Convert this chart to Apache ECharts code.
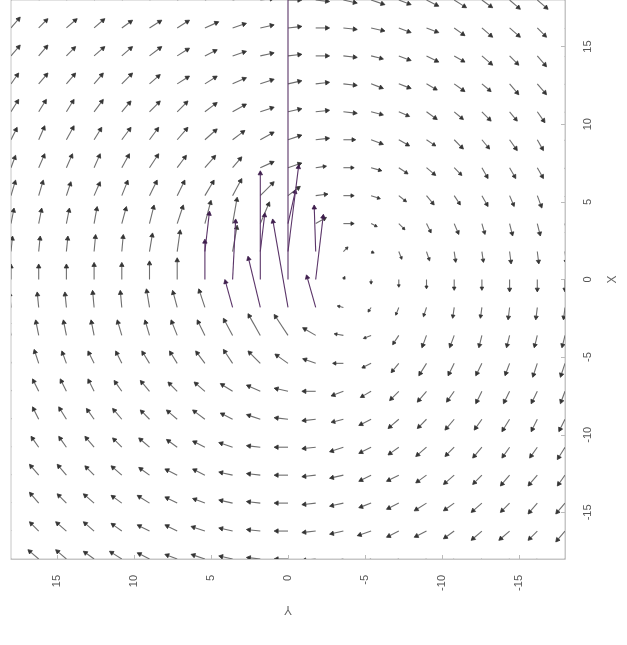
<!DOCTYPE html>
<html><head><meta charset="utf-8">
<script src="https://cdn.jsdelivr.net/npm/echarts@6/dist/echarts.min.js"></script>
<style>html,body{margin:0;padding:0;background:#fff}#c{width:627px;height:645px}</style>
</head><body><div id="c"></div>
<script>
// grid of X values (rows, top to bottom) and Y values (columns, left to right)
const xVals = [18,16.2,14.4,12.6,10.8,9,7.2,5.4,3.6,1.8,0,-1.8,-3.6,-5.4,-7.2,-9,-10.8,-12.6,-14.4,-16.2,-18];
const yVals = [18,16.2,14.4,12.6,10.8,9,7.2,5.4,3.6,1.8,0,-1.8,-3.6,-5.4,-7.2,-9,-10.8,-12.6,-14.4,-16.2,-18];
const tickValues = [-15,-10,-5,0,5,10,15];
// dX component of every arrow (row = X value, column = Y value)
const dXRows = [
[.6,.6,.6,.5,.5,.4,.3,.3,.2,.1,0,-.1,-.2,-.3,-.3,-.4,-.5,-.5,-.6,-.6,-.6],
[.7,.6,.6,.6,.5,.5,.5,.4,.3,.2,.1,0,-.1,-.2,-.3,-.3,-.5,-.6,-.6,-.6,-.7],
[.7,.7,.6,.6,.6,.6,.5,.4,.3,.2,.1,0,-.1,-.2,-.3,-.4,-.4,-.6,-.6,-.7,-.7],
[.7,.7,.7,.7,.7,.6,.5,.5,.4,.3,.2,.1,-.1,-.3,-.3,-.4,-.5,-.5,-.7,-.7,-.7],
[.8,.8,.8,.8,.7,.7,.7,.6,.5,.3,.2,.1,-.1,-.2,-.3,-.5,-.5,-.6,-.6,-.7,-.8],
[.8,.9,.9,.8,.8,.8,.8,.7,.6,.5,.3,.1,0,-.3,-.4,-.4,-.6,-.6,-.7,-.7,-.8],
[.8,.9,.9,.9,.9,.9,.8,.8,.7,.4,.3,.1,0,-.2,-.4,-.5,-.5,-.7,-.7,-.7,-.8],
[1.0,1.0,.9,.9,1.0,1.0,1.0,1.0,1.1,.9,.6,.1,0,-.2,-.4,-.6,-.6,-.7,-.7,-.8,-.8],
[1.0,1.0,1.0,1.1,1.1,1.2,1.2,1.5,1.7,1.4,2.2,.4,0,-.2,-.4,-.6,-.7,-.7,-.8,-.8,-.8],
[1.0,1.0,1.0,1.1,1.1,1.2,1.4,2.6,1.7,2.5,5.6,3.0,.3,-.1,-.5,-.6,-.7,-.7,-.8,-.8,-.8],
[1.0,1.0,1.0,1.1,1.1,1.2,1.4,2.6,3.9,7.0,25,4.2,.2,-.3,-.5,-.6,-.7,-.7,-.8,-.8,-.8],
[1.0,1.0,1.0,1.1,1.1,1.2,1.1,1.2,1.8,3.3,5.7,2.1,.1,-.3,-.5,-.6,-.7,-.7,-.8,-.8,-.8],
[1.0,1.0,1.0,1.0,1.0,1.0,1.0,1.0,1.1,1.4,1.35,.5,.1,-.2,-.6,-.8,-.8,-.8,-.8,-.8,-.8],
[.9,.9,.8,.8,.8,.8,.8,.8,.9,.8,.6,.3,0,-.3,-.6,-.8,-.8,-.8,-.8,-.9,-.9],
[.8,.8,.8,.8,.7,.7,.6,.6,.5,.4,.2,0,-.3,-.4,-.6,-.7,-.7,-.8,-.8,-.8,-.8],
[.8,.8,.8,.7,.7,.6,.6,.6,.4,.3,.1,-.1,-.2,-.4,-.6,-.6,-.7,-.7,-.8,-.8,-.8],
[.8,.7,.7,.7,.6,.6,.5,.4,.3,.1,0,-.1,-.3,-.4,-.5,-.6,-.6,-.7,-.7,-.7,-.8],
[.7,.7,.7,.6,.6,.5,.4,.4,.2,.1,0,-.1,-.2,-.4,-.4,-.5,-.6,-.6,-.7,-.7,-.7],
[.7,.7,.6,.6,.5,.5,.4,.3,.2,.1,0,-.1,-.2,-.3,-.4,-.5,-.5,-.6,-.6,-.7,-.7],
[.7,.6,.6,.6,.5,.4,.4,.3,.2,.1,0,-.1,-.2,-.3,-.4,-.4,-.5,-.6,-.6,-.6,-.7],
[.6,.6,.6,.5,.5,.4,.3,.3,.2,.1,0,-.1,-.2,-.3,-.3,-.4,-.5,-.5,-.6,-.6,-.6]
];
// dY component of every arrow
const dYRows = [
[-.6,-.7,-.7,-.7,-.8,-.8,-.8,-.9,-.9,-.9,-.9,-.9,-.9,-.9,-.8,-.8,-.8,-.7,-.7,-.7,-.6],
[-.6,-.6,-.7,-.7,-.7,-.8,-.8,-.9,-.9,-.9,-.9,-.9,-.9,-.9,-.8,-.8,-.7,-.7,-.7,-.6,-.6],
[-.6,-.6,-.6,-.7,-.7,-.8,-.8,-.8,-.9,-.9,-.9,-.9,-.9,-.8,-.8,-.8,-.7,-.7,-.6,-.6,-.6],
[-.5,-.6,-.6,-.6,-.7,-.7,-.8,-.8,-.9,-.9,-.9,-.9,-.9,-.8,-.8,-.7,-.7,-.6,-.6,-.6,-.5],
[-.5,-.5,-.5,-.6,-.6,-.7,-.7,-.8,-.9,-.9,-.9,-.9,-.9,-.8,-.7,-.7,-.6,-.6,-.5,-.5,-.5],
[-.4,-.4,-.5,-.5,-.6,-.6,-.7,-.8,-.8,-.9,-.9,-.9,-.8,-.8,-.7,-.6,-.6,-.5,-.5,-.4,-.4],
[-.3,-.4,-.4,-.4,-.5,-.6,-.6,-.7,-.6,-.9,-.9,-.7,-.7,-.7,-.6,-.6,-.5,-.4,-.4,-.4,-.3],
[-.3,-.3,-.3,-.4,-.4,-.5,-.5,-.6,-.6,-.9,-.8,-.8,-.7,-.6,-.5,-.5,-.4,-.4,-.3,-.3,-.3],
[-.2,-.2,-.2,-.2,-.3,-.3,-.4,-.4,-.3,-.6,-.5,-.7,-.7,-.4,-.4,-.3,-.3,-.2,-.2,-.2,-.2],
[-.1,-.1,-.1,-.1,-.1,-.2,-.2,-.3,-.3,-.3,-.7,.1,-.3,-.2,-.2,-.2,-.1,-.1,-.1,-.1,-.1],
[0,0,0,0,0,0,0,0,-.2,0,0,-.5,-.1,0,0,0,0,0,0,0,0],
[.1,.1,.1,.1,.1,.2,.3,.4,.5,.8,1.0,.6,.4,.2,.2,.2,.1,.1,.1,.1,.1],
[.2,.2,.2,.2,.3,.3,.4,.5,.6,.8,.9,.85,.6,.5,.4,.3,.3,.2,.2,.2,.2],
[.3,.3,.3,.4,.4,.5,.5,.6,.6,.8,.85,.85,.7,.6,.5,.5,.4,.4,.3,.3,.3],
[.3,.4,.4,.4,.5,.6,.6,.7,.8,.9,.9,.9,.8,.7,.6,.6,.5,.4,.4,.4,.3],
[.4,.4,.5,.5,.6,.6,.7,.8,.8,.9,.9,.9,.8,.8,.7,.6,.6,.5,.5,.4,.4],
[.5,.5,.5,.6,.6,.7,.7,.8,.9,.9,.9,.9,.9,.8,.7,.7,.6,.6,.5,.5,.5],
[.5,.6,.6,.6,.7,.7,.8,.8,.9,.9,.9,.9,.9,.8,.8,.7,.7,.6,.6,.6,.5],
[.6,.6,.6,.7,.7,.8,.8,.8,.9,.9,.9,.9,.9,.8,.8,.8,.7,.7,.6,.6,.6],
[.6,.6,.7,.7,.7,.8,.8,.9,.9,.9,.9,.9,.9,.9,.8,.8,.7,.7,.7,.6,.6],
[.6,.7,.7,.7,.8,.8,.8,.9,.9,.9,.9,.9,.9,.9,.8,.8,.8,.7,.7,.7,.6]
];

const data = [];
xVals.forEach((xv, i) => {
  yVals.forEach((yv, j) => {
    data.push([yv, xv, dYRows[i][j], dXRows[i][j]]);
  });
});

function renderItem(params, api) {
  const y0 = api.value(0), x0 = api.value(1), dy = api.value(2), dx = api.value(3);
  const s = api.coord([y0, x0]);
  const e = api.coord([y0 + dy, x0 + dx]);
  const vx = e[0] - s[0], vy = e[1] - s[1];
  const L = Math.hypot(vx, vy);
  if (L < 0.8) return null;
  const ux = vx / L, uy = vy / L;
  const h = Math.min(4, Math.max(2.5, 0.3 * L));
  const w = h * 0.55;
  const bx = e[0] - ux * h, by = e[1] - uy * h;
  const long = L > 28;
  const shaft = long ? '#5a3468' : '#6e6e6e';
  const head = long ? '#3e1d4c' : '#333333';
  return {
    type: 'group',
    children: [
      {type: 'line', shape: {x1: s[0], y1: s[1], x2: bx, y2: by},
       style: {stroke: shaft, lineWidth: 1.1}},
      {type: 'polygon', shape: {points: [[e[0], e[1]], [bx - uy * w, by + ux * w], [bx + uy * w, by - ux * w]]},
       style: {fill: head, stroke: head, lineWidth: 0.8}}
    ]
  };
}

const chart = echarts.init(document.getElementById('c'), null, {renderer: 'canvas'});
chart.setOption({
  backgroundColor: '#ffffff',
  animation: false,
  grid: {left: 11, right: 54, top: -3, bottom: 86, show: true, borderColor: '#c6c6c6', borderWidth: 1, backgroundColor: 'transparent'},
  xAxis: {
    type: 'value', min: -18, max: 18, inverse: true, position: 'bottom',
    name: 'Y', nameLocation: 'middle', nameGap: 44, nameRotate: 180,
    nameTextStyle: {color: '#666', fontSize: 12, fontFamily: 'Liberation Sans'},
    axisLine: {show: true, onZero: false, lineStyle: {color: '#c6c6c6'}},
    axisTick: {show: true, inside: true, length: 4, customValues: tickValues, lineStyle: {color: '#bbb'}},
    axisLabel: {customValues: tickValues, rotate: 90, margin: 16, color: '#555', fontSize: 11, fontFamily: 'Liberation Sans'},
    splitLine: {show: false}
  },
  yAxis: {
    type: 'value', min: -18, max: 18, position: 'right',
    name: 'X', nameLocation: 'middle', nameGap: 42, nameRotate: 90,
    nameTextStyle: {color: '#666', fontSize: 12, fontFamily: 'Liberation Sans'},
    axisLine: {show: true, onZero: false, lineStyle: {color: '#c6c6c6'}},
    axisTick: {show: true, inside: true, length: 4, customValues: tickValues, lineStyle: {color: '#bbb'}},
    axisLabel: {customValues: tickValues, rotate: 90, margin: 17, color: '#555', fontSize: 11, fontFamily: 'Liberation Sans'},
    splitLine: {show: false}
  },
  series: [{
    type: 'custom', renderItem: renderItem, clip: true, data: data,
    encode: {x: 0, y: 1}
  }]
});
</script>
</body></html>
